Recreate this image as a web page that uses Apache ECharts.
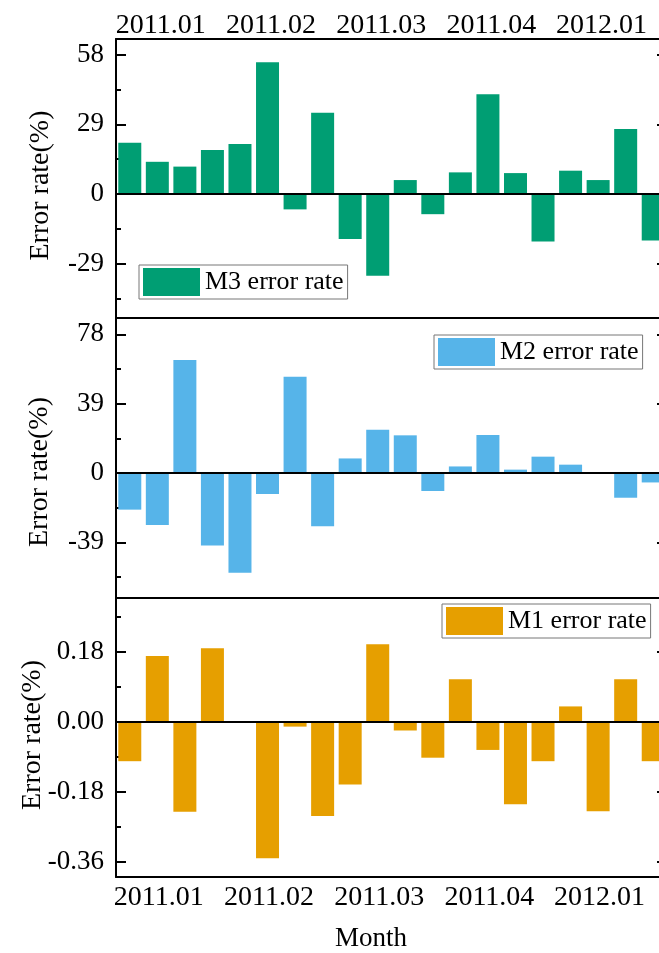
<!DOCTYPE html>
<html>
<head>
<meta charset="utf-8">
<script src="https://cdn.jsdelivr.net/npm/echarts@6/dist/echarts.min.js"></script>
<style>
  html, body { margin: 0; padding: 0; background: #fff; }
  #chart { width: 659px; height: 953px; }
</style>
</head>
<body>
<div id="chart"></div>
<script>
// 20 periods, one label every 4 bars
var categories = [
  '2011.01-1', '2011.01-2', '2011.01-3', '2011.01-4',
  '2011.02-1', '2011.02-2', '2011.02-3', '2011.02-4',
  '2011.03-1', '2011.03-2', '2011.03-3', '2011.03-4',
  '2011.04-1', '2011.04-2', '2011.04-3', '2011.04-4',
  '2012.01-1', '2012.01-2', '2012.01-3', '2012.01-4'
]

var m3Values = [21.3, 13.4, 11.4, 18.3, 20.8, 54.8, -6.4, 33.8, -18.7, -34.0,
  5.8, -8.4, 9.0, 41.5, 8.7, -19.8, 9.7, 5.8, 27.0, -19.4]
var m2Values = [-20.6, -29.3, 63.6, -40.7, -56.1, -11.8, 54.2, -30.0, 8.2, 24.4,
  21.2, -10.1, 3.7, 21.4, 1.9, 9.2, 4.7, 0, -13.9, -5.3]
var m1Values = [-0.101, 0.170, -0.231, 0.190, 0, -0.351, -0.012, -0.242, -0.161, 0.200,
  -0.022, -0.092, 0.110, -0.072, -0.212, -0.101, 0.040, -0.230, 0.110, -0.101]

// y tick values for each panel
var m3Ticks = [-29, 0, 29, 58]
var m3Minor = [-43.5, -14.5, 14.5, 43.5]
var m2Ticks = [-39, 0, 39, 78]
var m2Minor = [-58.5, -19.5, 19.5, 58.5]
var m1Ticks = [-0.36, -0.18, 0, 0.18]
var m1Minor = [-0.27, -0.09, 0.09, 0.27]

var FONT = '"Liberation Serif", "Times New Roman", serif'
var black = '#000'

var panels = [
  { name: 'M3 error rate', color: '#009E73', data: m3Values, ticks: m3Ticks, minor: m3Minor,
    min: -51.6, max: 64.5, top: 39, height: 279, legend: { left: 139, top: 265 },
    nameGap: 61, namePad: [0, 14, 0, 0], fmt: function (v) { return String(v) } },
  { name: 'M2 error rate', color: '#56B4E9', data: m2Values, ticks: m2Ticks, minor: m2Minor,
    min: -70.3, max: 87.2, top: 318, height: 280, legend: { left: 434, top: 335 },
    nameGap: 62, namePad: [0, 28, 0, 0], fmt: function (v) { return String(v) } },
  { name: 'M1 error rate', color: '#E69F00', data: m1Values, ticks: m1Ticks, minor: m1Minor,
    min: -0.399, max: 0.319, top: 598, height: 279, legend: { left: 442, top: 604 },
    nameGap: 69, namePad: [0, 0, 0, 5], fmt: function (v) { return v.toFixed(2) } }
]

var grid = [], xAxis = [], yAxis = [], series = [], legend = []

// labels sit a bit right of their ticks in the original
function catAxis(gi, pos, showLabel, margin, shift) {
  return {
    type: 'category', gridIndex: gi, position: pos, data: categories,
    axisLine: { onZero: false, lineStyle: { color: black, width: 2 } },
    axisTick: { inside: true, length: 10, interval: 3, alignWithLabel: true, lineStyle: { color: black, width: 2 } },
    axisLabel: {
      show: showLabel, interval: 3, margin: margin, color: black, fontFamily: FONT, fontSize: 28,
      padding: [0, 0, 0, shift * 2],
      formatter: function (v) { return v.split('-')[0] }
    },
    splitLine: { show: false }
  }
}

panels.forEach(function (p, i) {
  grid.push({ left: 116, top: p.top, width: 551, height: p.height, outerBoundsMode: 'none', containLabel: false })

  xAxis.push(catAxis(i, 'bottom', i === 2, 7, 29))
  if (i === 0) xAxis.push(catAxis(i, 'top', true, -1, 31))

  // left axis: major ticks + labels
  yAxis.push({
    type: 'value', gridIndex: i, position: 'left', min: p.min, max: p.max,
    name: 'Error rate(%)', nameLocation: 'middle', nameGap: p.nameGap, nameRotate: 90,
    nameMoveOverlap: false,
    nameTextStyle: { color: black, fontFamily: FONT, fontSize: 28, padding: p.namePad },
    axisLine: { show: true, lineStyle: { color: black, width: 2 } },
    axisTick: { show: true, inside: true, length: 10, customValues: p.ticks, lineStyle: { color: black, width: 2 } },
    axisLabel: { customValues: p.ticks, margin: 12, color: black, fontFamily: FONT, fontSize: 27, formatter: p.fmt },
    splitLine: { show: false }
  })
  // left axis: minor ticks
  yAxis.push({
    type: 'value', gridIndex: i, position: 'left', min: p.min, max: p.max,
    axisLine: { show: false },
    axisTick: { show: true, inside: true, length: 5, customValues: p.minor, lineStyle: { color: black, width: 2 } },
    axisLabel: { show: false },
    splitLine: { show: false }
  })
  // right axis
  yAxis.push({
    type: 'value', gridIndex: i, position: 'right', min: p.min, max: p.max,
    axisLine: { show: true, lineStyle: { color: black, width: 2 } },
    axisTick: { show: true, inside: true, length: 10, customValues: p.ticks, lineStyle: { color: black, width: 2 } },
    axisLabel: { show: false },
    splitLine: { show: false }
  })

  var xIdx = i === 0 ? 0 : i + 1
  series.push({
    name: p.name, type: 'bar', xAxisIndex: xIdx, yAxisIndex: i * 3,
    data: p.data, barWidth: 23, itemStyle: { color: p.color },
    markLine: {
      silent: true, symbol: 'none', label: { show: false },
      lineStyle: { color: black, width: 2, type: 'solid' },
      data: [{ yAxis: 0 }]
    }
  })

  legend.push({
    data: [{ name: p.name, icon: 'rect' }], left: p.legend.left, top: p.legend.top,
    orient: 'vertical', itemWidth: 57, itemHeight: 28, padding: [3, 4, 3, 4],
    borderColor: '#777', borderWidth: 1, selectedMode: false,
    textStyle: { color: black, fontFamily: FONT, fontSize: 26 }
  })
})

var chart = echarts.init(document.getElementById('chart'))
chart.setOption({
  animation: false,
  backgroundColor: '#fff',
  grid: grid,
  xAxis: xAxis,
  yAxis: yAxis,
  legend: legend,
  series: series,
  graphic: [{
    type: 'text', left: 335, top: 925,
    style: { text: 'Month', fill: black, font: '27px ' + FONT }
  }]
})
</script>
</body>
</html>
